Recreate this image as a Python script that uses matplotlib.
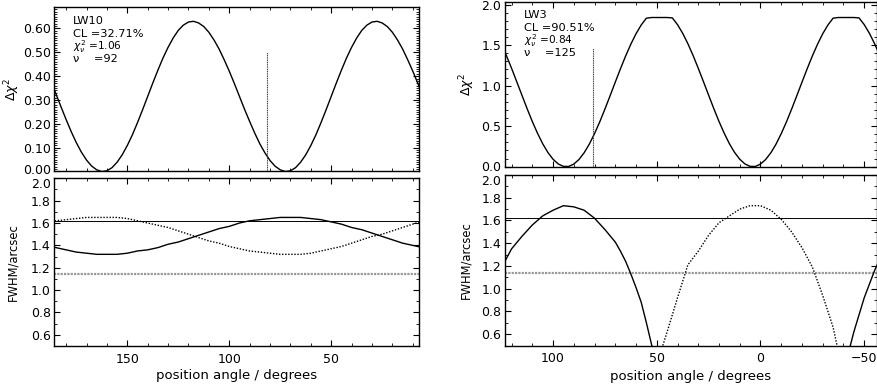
import matplotlib
matplotlib.use('Agg')
import numpy as np
import matplotlib.pyplot as plt
from matplotlib.ticker import MultipleLocator, FormatStrFormatter
from matplotlib.transforms import ScaledTranslation

plt.rcParams['font.family'] = ['DejaVu Sans']
plt.rcParams['mathtext.fontset'] = 'dejavusans'

# ---- LW10 (left column) ----
# delta chi^2, read every 2.5 deg from 190 down to 5
pa_lw10_fine = np.arange(190, 4, -2.5)
dchi_lw10 = [0.433, 0.380, 0.326, 0.271, 0.218, 0.167, 0.121, 0.081, 0.048, 0.023,
             0.007, 0.000, 0.003, 0.016, 0.039, 0.070, 0.109, 0.154, 0.205, 0.259,
             0.315, 0.371, 0.425, 0.476, 0.521, 0.560, 0.592, 0.614, 0.627, 0.630,
             0.623, 0.608, 0.584, 0.552, 0.514, 0.469, 0.421, 0.369, 0.315, 0.261,
             0.210, 0.161, 0.116, 0.078, 0.046, 0.022, 0.007, 0.000, 0.003, 0.016,
             0.039, 0.070, 0.109, 0.154, 0.205, 0.259, 0.315, 0.371, 0.425, 0.476,
             0.521, 0.560, 0.592, 0.614, 0.627, 0.630, 0.623, 0.608, 0.584, 0.552,
             0.514, 0.469, 0.421, 0.369, 0.315]
# FWHM, read every 5 deg from 190 down to 5
pa_lw10 = np.arange(190, 4, -5)
fwhm_lw10_a = [1.40, 1.38, 1.36, 1.34, 1.33, 1.32, 1.32, 1.32, 1.33, 1.35,
               1.36, 1.38, 1.41, 1.43, 1.46, 1.49, 1.52, 1.55, 1.57, 1.60,
               1.62, 1.63, 1.64, 1.65, 1.65, 1.65, 1.64, 1.63, 1.61, 1.59,
               1.56, 1.54, 1.51, 1.48, 1.45, 1.42, 1.40, 1.38]
fwhm_lw10_b = [1.60, 1.62, 1.63, 1.64, 1.65, 1.65, 1.65, 1.65, 1.64, 1.62,
               1.60, 1.58, 1.56, 1.53, 1.50, 1.47, 1.44, 1.42, 1.39, 1.37,
               1.35, 1.34, 1.33, 1.32, 1.32, 1.32, 1.33, 1.35, 1.37, 1.39,
               1.42, 1.45, 1.48, 1.50, 1.53, 1.56, 1.59, 1.62]
mark_lw10 = 81.7
mark_top_lw10 = 0.50
stats_lw10 = ['LW10', 'CL =32.71%', r'$\chi_\nu^2$ =1.06', 'ν    =92']

# ---- LW3 (right column) ----
pa_lw3 = np.arange(125, -61, -2.5)
dchi_lw3 = [1.517, 1.372, 1.214, 1.049, 0.882, 0.716, 0.558, 0.413, 0.284, 0.176,
            0.092, 0.034, 0.004, 0.003, 0.032, 0.089, 0.172, 0.279, 0.408, 0.552,
            0.710, 0.875, 1.043, 1.208, 1.366, 1.511, 1.640, 1.748, 1.832, 1.840,
            1.840, 1.840, 1.840, 1.835, 1.752, 1.645,
            1.517, 1.372, 1.214, 1.049, 0.882, 0.716, 0.558, 0.413, 0.284, 0.176,
            0.092, 0.034, 0.004, 0.003, 0.032, 0.089, 0.172, 0.279, 0.408, 0.552,
            0.710, 0.875, 1.043, 1.208, 1.366, 1.511, 1.640, 1.748, 1.832, 1.840,
            1.840, 1.840, 1.840, 1.835, 1.752, 1.645,
            1.517, 1.372, 1.214]
pa_lw3_a1 = [123.5, 120, 115, 110, 105, 100, 95, 90, 85, 80, 75, 70, 67.5,
             65, 62.5, 60, 57.5, 55, 52.4]
fwhm_lw3_a1 = [1.23, 1.35, 1.46, 1.56, 1.64, 1.69, 1.73, 1.72, 1.69, 1.62,
               1.52, 1.41, 1.33, 1.24, 1.13, 1.01, 0.88, 0.70, 0.50]
pa_lw3_a2 = [-43.3, -45, -50, -55, -57]
fwhm_lw3_a2 = [0.50, 0.62, 0.92, 1.16, 1.24]
pa_lw3_b = [47.1, 45, 40, 35, 30, 25, 20, 15, 10, 5, 0, -5, -10, -15, -20,
            -25, -30, -35, -36.9]
fwhm_lw3_b = [0.50, 0.62, 0.92, 1.21, 1.33, 1.47, 1.58, 1.64, 1.70, 1.73, 1.73,
              1.69, 1.61, 1.50, 1.36, 1.19, 0.94, 0.66, 0.50]
mark_lw3 = 80.9
mark_top_lw3 = 1.47
stats_lw3 = ['LW3', 'CL =90.51%', r'$\chi_\nu^2$ =0.84', 'ν    =125']

fwhm_hi = 1.62
fwhm_lo = 1.14

W, H = 878, 384


def px_axes(fig, x0, x1, y0, y1):
    return fig.add_axes([x0 / W, 1 - y1 / H, (x1 - x0) / W, (y1 - y0) / H])


def style(ax, xlim, ylim, ymaj, ymin, yfmt, xlab):
    ax.set_xlim(*xlim)
    ax.set_ylim(*ylim)
    ax.xaxis.set_major_locator(MultipleLocator(50))
    ax.xaxis.set_minor_locator(MultipleLocator(10))
    ax.yaxis.set_major_locator(MultipleLocator(ymaj))
    ax.yaxis.set_minor_locator(MultipleLocator(ymin))
    ax.yaxis.set_major_formatter(FormatStrFormatter(yfmt))
    ax.tick_params(which='both', direction='in', top=True, right=True,
                   labelsize=9, colors='black')
    ax.tick_params(which='major', length=4.5, width=0.8)
    ax.tick_params(which='minor', length=2.2, width=0.6)
    ax.tick_params(axis='x', pad=5)
    ax.tick_params(axis='y', pad=2.5)
    if not xlab:
        ax.tick_params(axis='x', labelbottom=False)
    for s in ax.spines.values():
        s.set_linewidth(1.0)


def set_ylab(ax, text, xpos, size):
    ax.set_ylabel(text, fontsize=size)
    ax.yaxis.set_label_coords(xpos, 0.5)
    ax.yaxis.label.set_va('center')


def stats_box(ax, rows, x0, ys):
    for row, y in zip(rows, ys):
        size = 7.6 if row.startswith('$') else 8.2
        ax.text(x0, y, row, transform=ax.transAxes, va='center', ha='left', fontsize=size)


def fwhm_panel(ax):
    ax.axhline(fwhm_hi, color='black', lw=0.7)
    ax.axhline(fwhm_lo, color='0.6', lw=1.6, ls=(0, (1, 0.5)))


fig = plt.figure(figsize=(W / 100, H / 100), dpi=100)

# left top
ax_lt = px_axes(fig, 54.3, 419.3, 7, 171.5)
ax_lt.plot(pa_lw10_fine, dchi_lw10, color='black', lw=1.0)
ax_lt.vlines(mark_lw10, 0, mark_top_lw10, color='0.25', lw=0.8, linestyles=(0, (1, 0.6)))
style(ax_lt, (185.8, 6.8), (0, 0.69), 0.1, 0.01, '%.2f', False)
set_ylab(ax_lt, r'$\Delta\chi^2$', -0.116, 9)
stats_box(ax_lt, stats_lw10, 0.050, [0.917, 0.836, 0.759, 0.682])

# left bottom
ax_lb = px_axes(fig, 54.3, 419.3, 178.3, 346)
fwhm_panel(ax_lb)
ax_lb.plot(pa_lw10, fwhm_lw10_a, color='black', lw=1.0)
ax_lb.plot(pa_lw10, fwhm_lw10_b, color='black', lw=1.0, ls=(0, (1, 1.2)))
style(ax_lb, (185.8, 6.8), (0.5, 2.0), 0.2, 0.1, '%.1f', True)
set_ylab(ax_lb, 'FWHM/arcsec', -0.113, 8.3)
ax_lb.set_xlabel('position angle / degrees', fontsize=9.5)
ax_lb.xaxis.set_label_coords(0.5, -0.173)
ax_lb.xaxis.label.set_va('center')

# right top
ax_rt = px_axes(fig, 504.7, 877.3, 1.7, 166.7)
ax_rt.plot(pa_lw3, dchi_lw3, color='black', lw=1.0)
ax_rt.vlines(mark_lw3, 0, mark_top_lw3, color='0.25', lw=0.8, linestyles=(0, (1, 0.6)))
style(ax_rt, (123.3, -56.3), (0, 2.035), 0.5, 0.1, '%.1f', False)
set_ylab(ax_rt, r'$\Delta\chi^2$', -0.101, 9)
stats_box(ax_rt, stats_lw3, 0.052, [0.919, 0.839, 0.764, 0.687])

# right bottom
ax_rb = px_axes(fig, 504.7, 877.3, 175, 345.5)
fwhm_panel(ax_rb)
ax_rb.plot(pa_lw3_a1, fwhm_lw3_a1, color='black', lw=1.0)
ax_rb.plot(pa_lw3_a2, fwhm_lw3_a2, color='black', lw=1.0)
ax_rb.plot(pa_lw3_b, fwhm_lw3_b, color='black', lw=1.0, ls=(0, (1, 1.2)))
style(ax_rb, (123.3, -56.3), (0.5, 2.0), 0.2, 0.1, '%.1f', True)
set_ylab(ax_rb, 'FWHM/arcsec', -0.104, 8.3)
ax_rb.set_xlabel('position angle / degrees', fontsize=9.5)
ax_rb.xaxis.set_label_coords(0.5, -0.179)
ax_rb.xaxis.label.set_va('center')

# end labels sit a little inside the frame, as in the original
fig.canvas.draw()
for ax, txt, dy in [(ax_lt, '0.00', 2.5), (ax_rt, '0.0', 1.0),
                    (ax_lb, '2.0', -5.0), (ax_rb, '2.0', -5.0)]:
    for tick in ax.yaxis.get_major_ticks():
        if tick.label1.get_text() == txt:
            off = ScaledTranslation(0, dy / 100, fig.dpi_scale_trans)
            tick.label1.set_transform(tick.label1.get_transform() + off)

fig.savefig('out.png', dpi=100)
